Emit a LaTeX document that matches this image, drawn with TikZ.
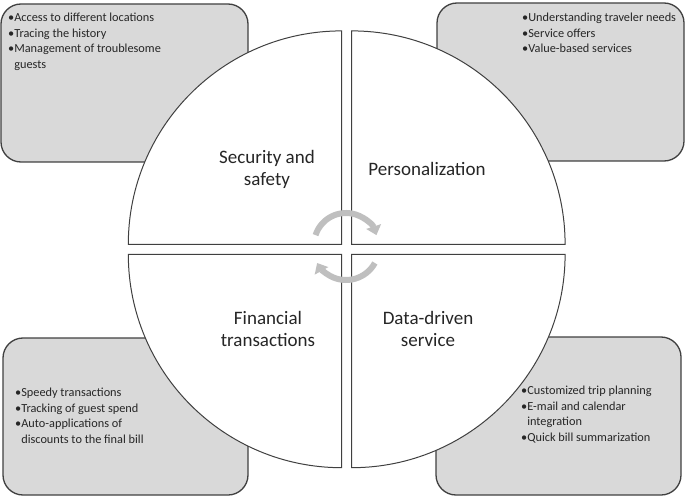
\documentclass[tikz,border=0pt]{standalone}
\usepackage{fontspec}
\setmainfont{Carlito}
\usetikzlibrary{arrows.meta,calc}
\definecolor{boxgray}{HTML}{D9D9D9}
\definecolor{edge}{HTML}{404040}
\definecolor{cyclegray}{HTML}{BFBFBF}
\definecolor{txt}{HTML}{262626}

\begin{document}
\begin{tikzpicture}[
    x=1pt, y=-1pt,
    infobox/.style={draw=edge, line width=1.3pt, fill=boxgray, rounded corners=20pt},
    quarter/.style={draw=edge, line width=1pt, fill=white},
    topic/.style={font=\fontsize{19}{22}\selectfont, text=txt, align=center, inner sep=0pt},
    bullets/.style={font=\fontsize{12.3}{15.5}\selectfont, text=txt, align=left, inner sep=0pt, anchor=north west},
    cyc/.style={draw=cyclegray, line width=6pt, -{Triangle[length=9pt, width=15pt]}}
]
    \useasboundingbox (0,0) rectangle (685,497);

    % grey boxes behind the circle
    \draw[infobox] (1,4) rectangle (248,162);
    \draw[infobox] (437,3) rectangle (684,161);
    \draw[infobox] (3,338) rectangle (248,495);
    \draw[infobox] (436,337) rectangle (681,495);

    % quarter circles
    \coordinate (cTL) at (341.7,244.3);
    \coordinate (cTR) at (351.7,244.3);
    \coordinate (cBL) at (341.7,254.3);
    \coordinate (cBR) at (351.7,254.3);
    \draw[quarter] (cTL) -- ++(-213.4pt,0) arc[start angle=180, end angle=90, radius=213.4pt] -- cycle;
    \draw[quarter] (cTR) -- ++(0,213.4pt) arc[start angle=90, end angle=0, radius=213.4pt] -- cycle;
    \draw[quarter] (cBL) -- ++(-213.4pt,0) arc[start angle=180, end angle=270, radius=213.4pt] -- cycle;
    \draw[quarter] (cBR) -- ++(213.4pt,0) arc[start angle=0, end angle=-90, radius=213.4pt] -- cycle;

    \node[topic] (security) at (267,169) {Security and\\safety};
    \node[topic] (personal) at (427,169) {Personalization};
    \node[topic] (finance) at (268,329) {Financial\\transactions};
    \node[topic] (datadriven) at (428,329) {Data-driven\\service};

    \node[bullets] (securitypts) at (8,13) {\textbullet Access to different locations\\
        \textbullet Tracing the history\\
        \textbullet Management of troublesome\\
        \hphantom{\textbullet}guests};
    \node[bullets] (personalpts) at (522,13) {\textbullet Understanding traveler needs\\
        \textbullet Service offers\\
        \textbullet Value-based services};
    \node[bullets] (financepts) at (15,388) {\textbullet Speedy transactions\\
        \textbullet Tracking of guest spend\\
        \textbullet Auto-applications of\\
        \hphantom{\textbullet}discounts to the final bill};
    \node[bullets] (datapts) at (521,386) {\textbullet Customized trip planning\\
        \textbullet E-mail and calendar\\
        \hphantom{\textbullet}integration\\
        \textbullet Quick bill summarization};

    % cycle arrows in the middle
    \coordinate (cycTop) at (346,245);
    \coordinate (cycBot) at (346,247);
    \draw[cyc] ($(cycTop)+(162:32pt)$) arc[start angle=162, end angle=18, radius=32pt];
    \draw[cyc] ($(cycBot)+(-29:33pt)$) arc[start angle=-29, end angle=-151, radius=33pt];
\end{tikzpicture}
\end{document}
